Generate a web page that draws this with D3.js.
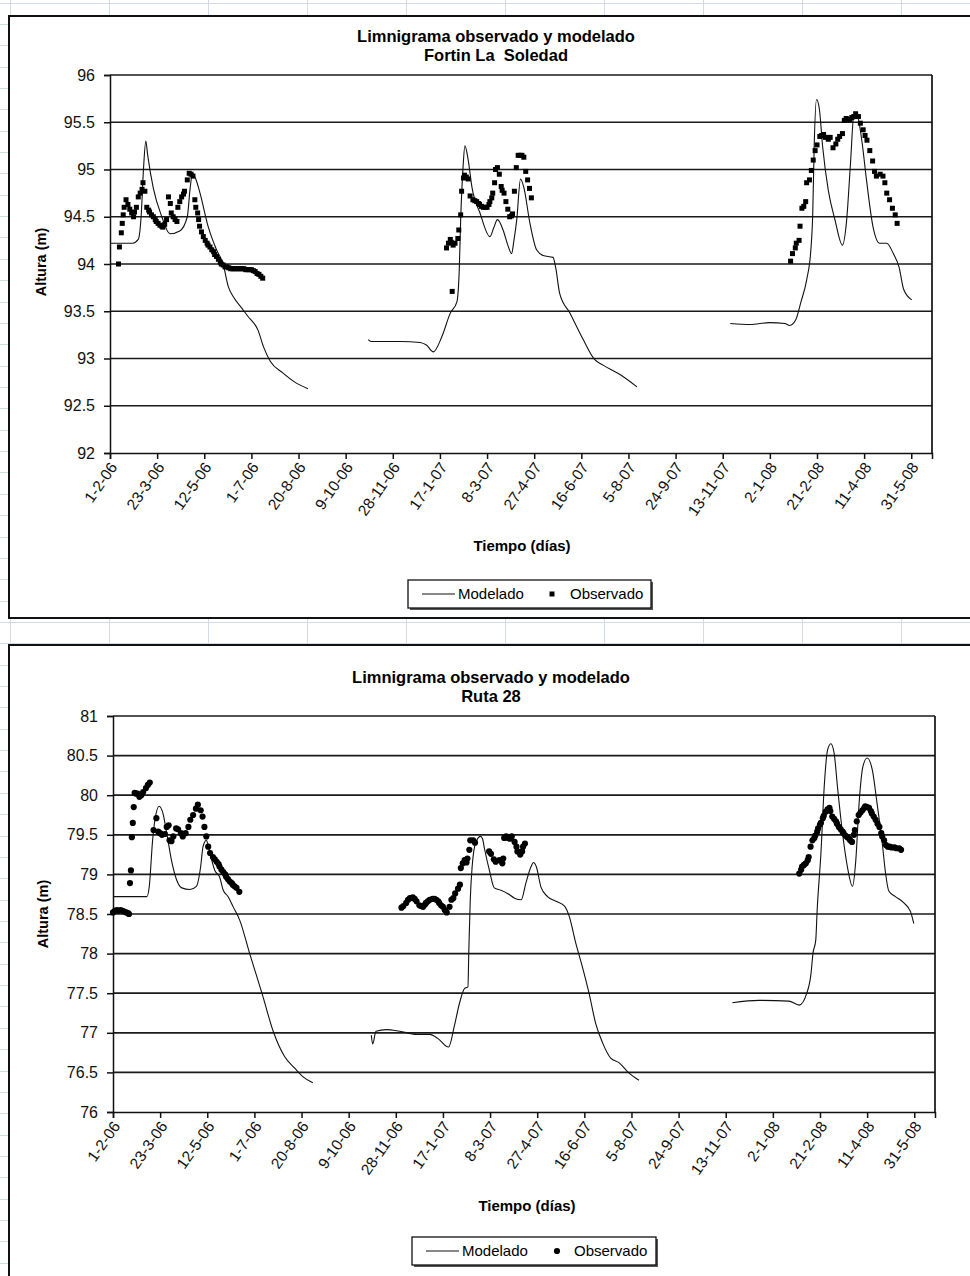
<!DOCTYPE html>
<html>
<head>
<meta charset="utf-8">
<script src="https://cdn.jsdelivr.net/npm/d3@7"></script>
<style>
  body { margin: 0; background: #fff; }
  svg { display: block; font-family: "Liberation Sans", Arial, sans-serif; }
</style>
</head>
<body>
<div id="sheet"></div>
<script>
// day 0 = 1-2-06
const startDate = Date.UTC(2006, 1, 1);

const xTickLabels = ["1-2-06","23-3-06","12-5-06","1-7-06","20-8-06","9-10-06","28-11-06","17-1-07",
  "8-3-07","27-4-07","16-6-07","5-8-07","24-9-07","13-11-07","2-1-08","21-2-08","11-4-08","31-5-08"];

const fortinYLabels = ["92","92.5","93","93.5","94","94.5","95","95.5","96"];
const rutaYLabels = ["76","76.5","77","77.5","78","78.5","79","79.5","80","80.5","81"];

const seriesNames = ["Modelado", "Observado"];

// Fortin La Soledad
const fortinModelado06 = [[0,94.22],[24,94.22],[30,94.26],[33,94.5],[35.5,95.0],[38,95.3],[40,95.15],[46,94.8],
  [55,94.5],[63.5,94.32],[74,94.35],[82,94.5],[85,94.8],[87.5,94.96],[91,94.9],[95.5,94.75],[104,94.4],[113,94.15],
  [120,94.0],[125.5,93.76],[131,93.65],[140,93.53],[146,93.45],[157,93.3],[163,93.12],[170,92.97],[183,92.85],
  [196,92.75],[210,92.68]];
const fortinModelado07 = [[274,93.2],[277,93.18],[308,93.18],[329,93.17],[336,93.14],[343,93.07],[352,93.23],
  [361,93.48],[368,93.6],[370.5,93.94],[372,94.47],[374.5,95.02],[376.5,95.25],[380,95.1],[384,94.81],[392.5,94.54],
  [403,94.29],[407,94.38],[411,94.47],[417,94.36],[422,94.2],[426,94.11],[428.5,94.25],[431.5,94.47],[435.5,94.9],
  [439,94.81],[445.5,94.43],[452.5,94.15],[459.5,94.09],[470,94.07],[473,93.95],[477,93.69],[488,93.48],[502,93.2],
  [514,92.99],[523,92.93],[541,92.83],[559,92.7]];
const fortinModelado08 = [[658,93.37],[679,93.36],[700,93.38],[716,93.37],[721,93.35],[727.5,93.41],[733,93.6],
  [739,93.83],[743.5,94.15],[745.5,94.54],[747,95.24],[749.5,95.74],[752.5,95.64],[756,95.24],[762,94.78],[769,94.47],
  [777,94.2],[781.5,94.47],[785.5,95.06],[789,95.56],[792.5,95.57],[797.5,95.31],[802.5,94.89],[809.5,94.39],
  [816.5,94.22],[824,94.22],[831,94.11],[837,93.97],[842,93.73],[850.5,93.62]];

const fortinObservado06 = [[9,94.0],[10,94.18],[12,94.33],[13,94.43],[14,94.52],[15,94.6],[17,94.68],[19,94.63],
  [21,94.58],[23,94.54],[25,94.5],[26,94.55],[28,94.6],[30,94.71],[32,94.75],[34,94.79],[35,94.86],[37,94.77],
  [39,94.6],[41,94.57],[42,94.55],[44,94.52],[46,94.5],[48,94.47],[49,94.45],[51,94.43],[53,94.41],[55,94.4],
  [56,94.39],[58,94.42],[60,94.47],[62,94.71],[64,94.64],[65,94.54],[67,94.5],[69,94.47],[71,94.45],[72,94.6],
  [74,94.66],[76,94.71],[78,94.74],[79,94.77],[82,94.89],[84,94.96],[86,94.95],[88,94.93],[90,94.68],[91,94.6],
  [93,94.54],[94,94.47],[95,94.4],[97,94.34],[99,94.29],[101,94.25],[103,94.22],[104,94.2],[106,94.18],[108,94.15],
  [110,94.13],[111,94.1],[113,94.08],[115,94.05],[117,94.02],[118,94.0],[120,93.99],[122,93.97],[124,93.97],
  [126,93.96],[128,93.95],[130,93.95],[132,93.95],[134,93.95],[136,93.95],[138,93.95],[140,93.95],[142,93.95],
  [144,93.94],[146,93.94],[148,93.94],[150,93.94],[152,93.93],[154,93.92],[156,93.9],[158,93.89],[160,93.87],[162,93.85]];
const fortinObservado07 = [[357,94.17],[359,94.22],[361,94.26],[362,94.23],[363,93.71],[364,94.2],[366,94.22],
  [369,94.27],[370,94.36],[372,94.52],[373,94.77],[375,94.91],[376,94.94],[378,94.92],[380,94.9],[382,94.72],
  [385,94.68],[387,94.67],[389,94.66],[391,94.64],[392,94.63],[394,94.61],[396,94.6],[398,94.6],[400,94.6],
  [402,94.63],[403,94.66],[405,94.7],[406,94.75],[408,94.86],[409,95.0],[411,95.02],[413,94.95],[415,94.82],
  [416,94.78],[418,94.75],[420,94.66],[422,94.58],[424,94.5],[426,94.51],[427,94.53],[429,94.77],[431,95.02],
  [433,95.15],[435,95.15],[437,95.15],[439,95.13],[441,94.98],[443,94.89],[445,94.8],[447,94.7]];
const fortinObservado08 = [[722,94.03],[724,94.11],[727,94.17],[728,94.22],[731,94.25],[732,94.4],[734,94.59],
  [736,94.61],[738,94.66],[739,94.86],[742,94.89],[744,94.99],[746,95.1],[748,95.2],[750,95.26],[753,95.35],
  [755,95.36],[757,95.37],[759,95.34],[762,95.32],[764,95.34],[767,95.23],[770,95.27],[772,95.32],[774,95.35],
  [777,95.38],[779,95.52],[781,95.54],[783,95.53],[785,95.53],[787,95.55],[789,95.56],[791,95.59],[794,95.56],
  [796,95.49],[799,95.42],[801,95.36],[803,95.31],[806,95.2],[809,95.09],[811,94.98],[813,94.93],[817,94.95],
  [820,94.93],[822,94.86],[824,94.75],[827,94.68],[830,94.59],[833,94.52],[835,94.43]];

// Ruta 28
const rutaModelado06 = [[0,78.72],[36,78.72],[38.5,78.85],[42,79.43],[44.5,79.69],[49,79.86],[53,79.77],[57,79.52],
  [62,79.18],[67.5,78.93],[73,78.83],[81.5,78.81],[88.5,78.85],[93,79.1],[95.5,79.35],[99,79.43],[103,79.26],
  [108,79.05],[113,78.97],[117,78.8],[122,78.72],[127.5,78.59],[134.5,78.42],[145,78.0],[158,77.5],[170.5,77.0],
  [182,76.7],[193,76.55],[201,76.45],[212,76.37]];
const rutaModelado07 = [[274,76.97],[275.5,76.86],[279,77.02],[290,77.04],[304,77.02],[322,76.98],[336,76.98],
  [344.5,76.93],[356,76.82],[362,77.08],[367.5,77.37],[373,77.56],[376.5,77.58],[377.5,78.05],[379,78.68],[381,79.1],
  [385,79.41],[390,79.48],[392,79.45],[394,79.33],[399.5,79.04],[404.5,78.83],[411.5,78.8],[418.5,78.76],[426,78.7],
  [433,78.68],[438,78.89],[443.5,79.1],[446,79.15],[449,79.1],[454,78.84],[461,78.72],[470,78.66],[479,78.6],
  [484,78.47],[491,78.13],[498,77.83],[505,77.5],[512,77.12],[519.5,76.87],[528,76.68],[537,76.62],[547.5,76.49],
  [558,76.4]];
const rutaModelado08 = [[657,77.38],[685,77.41],[717,77.4],[728,77.35],[736,77.5],[740.5,77.75],[742.5,78.0],
  [745.5,78.17],[747,78.55],[751,79.27],[754.5,80.11],[758,80.57],[761.5,80.65],[765,80.53],[768.5,80.11],
  [773.5,79.56],[779,79.1],[784.5,78.85],[788,79.18],[791.5,79.9],[795.5,80.36],[800,80.47],[805.5,80.32],
  [810.5,79.9],[816,79.4],[819.5,79.02],[823,78.79],[830,78.72],[839,78.64],[846,78.53],[849.5,78.38]];

const rutaObservado06 = [[0,78.52],[2,78.54],[4,78.55],[6,78.54],[8,78.55],[10,78.54],[12,78.53],[14,78.52],
  [16,78.51],[17,78.5],[18,78.89],[19,79.05],[20,79.47],[21,79.65],[22,79.85],[23,80.03],[24,80.02],[26,80.02],
  [28,79.98],[30,80.0],[32,80.04],[35,80.09],[37,80.13],[39,80.16],[43,79.56],[46,79.71],[48,79.54],[50,79.52],
  [52,79.5],[55,79.51],[57,79.6],[59,79.62],[60,79.43],[62,79.42],[64,79.48],[67,79.58],[69,79.57],[72,79.52],
  [74,79.48],[77,79.52],[80,79.6],[82,79.69],[85,79.75],[88,79.83],[90,79.88],[93,79.81],[95,79.73],[97,79.6],
  [99,79.48],[101,79.35],[103,79.27],[106,79.22],[108,79.19],[110,79.16],[112,79.13],[113,79.1],[115,79.06],
  [117,79.03],[119,79.0],[120,78.97],[122,78.94],[124,78.91],[126,78.89],[127,78.87],[129,78.85],[131,78.83],[134,78.78]];
const rutaObservado07 = [[306,78.58],[308,78.6],[311,78.64],[313,78.68],[315,78.7],[318,78.71],[320,78.69],
  [322,78.66],[325,78.61],[327,78.6],[329,78.59],[331,78.62],[332,78.64],[334,78.66],[336,78.68],[339,78.69],
  [341,78.69],[343,78.68],[345,78.66],[346,78.64],[348,78.61],[350,78.59],[352,78.55],[354,78.52],[357,78.59],
  [359,78.68],[361,78.7],[363,78.76],[366,78.82],[368,78.87],[369,79.08],[371,79.14],[373,79.18],[375,79.15],
  [376,79.2],[378,79.31],[379,79.43],[382,79.43],[384,79.4],[399,79.29],[401,79.26],[404,79.19],[406,79.16],
  [410,79.18],[413,79.14],[414,79.2],[415,79.46],[417,79.48],[419,79.46],[421,79.45],[423,79.48],[426,79.41],
  [428,79.35],[429,79.29],[432,79.25],[434,79.29],[435,79.35],[437,79.39]];
const rutaObservado08 = [[728,79.01],[730,79.06],[731,79.1],[733,79.12],[735,79.14],[737,79.18],[738,79.22],
  [740,79.35],[742,79.43],[744,79.46],[745,79.49],[747,79.54],[748,79.58],[750,79.63],[751,79.65],[753,79.71],
  [754,79.74],[756,79.79],[758,79.82],[760,79.84],[761,79.8],[763,79.73],[765,79.7],[767,79.67],[768,79.64],
  [770,79.6],[772,79.57],[774,79.54],[775,79.52],[777,79.49],[779,79.47],[781,79.45],[782,79.43],[784,79.41],
  [786,79.5],[787,79.56],[789,79.67],[791,79.75],[793,79.78],[795,79.81],[797,79.84],[798,79.86],[800,79.85],
  [802,79.84],[804,79.8],[805,79.77],[807,79.73],[809,79.69],[811,79.64],[813,79.6],[815,79.52],[816,79.48],
  [818,79.43],[820,79.37],[822,79.35],[824,79.35],[826,79.34],[829,79.34],[831,79.33],[834,79.33],[836,79.31]];

const W = 970, H = 1276;
const toDate = d => new Date(startDate + d * 864e5);
const parseTick = d3.utcParse("%d-%m-%y");

const svg = d3.select('#sheet').append('svg')
    .attr('width', W)
    .attr('height', H);

// spreadsheet cells behind the charts
const cells = svg.append('g').attr('stroke', '#d3dae6').attr('stroke-width', 1);
for (let y = 2.5; y < H; y += 21.36) {
    cells.append('line').attr('x1', 0).attr('x2', W).attr('y1', Math.round(y) + 0.5).attr('y2', Math.round(y) + 0.5);
}
for (let x = 10; x < W; x += 99) {
    cells.append('line').attr('x1', x + 0.5).attr('x2', x + 0.5).attr('y1', 0).attr('y2', H);
}

function drawChart(cfg) {
    const g = svg.append('g');

    // chart area
    g.append('rect')
        .attr('x', cfg.frame.x).attr('y', cfg.frame.y)
        .attr('width', cfg.frame.w).attr('height', cfg.frame.h)
        .attr('fill', '#fff').attr('stroke', '#111').attr('stroke-width', 2);

    g.append('text')
        .attr('x', cfg.titleX).attr('y', cfg.titleY)
        .attr('text-anchor', 'middle')
        .attr('font-weight', 'bold').attr('font-size', 16.5)
        .text('Limnigrama observado y modelado');
    g.append('text')
        .attr('x', cfg.titleX).attr('y', cfg.titleY + 19)
        .attr('text-anchor', 'middle')
        .attr('font-weight', 'bold').attr('font-size', 16.5)
        .style('white-space', 'pre')
        .text(cfg.subtitle);

    const p = cfg.plot;
    const plot = g.append('g').attr('transform', `translate(${p.left},${p.top})`);

    const yTicks = cfg.yLabels.map(Number);
    const xScale = d3.scaleUtc().domain([toDate(0), toDate(872)]).range([0, p.width]);
    const yScale = d3.scaleLinear().domain(d3.extent(yTicks)).range([p.height, 0]);

    plot.append('rect')
        .attr('width', p.width).attr('height', p.height)
        .attr('fill', '#fff');

    // gridlines
    plot.append('g')
        .selectAll('line')
        .data(yTicks.slice(1))
        .enter()
        .append('line')
        .attr('x1', 0).attr('x2', p.width)
        .attr('y1', d => yScale(d)).attr('y2', d => yScale(d))
        .attr('stroke', '#1a1a1a').attr('stroke-width', 1.7);

    plot.append('line')
        .attr('x1', p.width).attr('x2', p.width)
        .attr('y1', 0).attr('y2', p.height)
        .attr('stroke', '#111').attr('stroke-width', 1.7);

    // axes
    const yAxis = d3.axisLeft(yScale)
        .tickValues(yTicks)
        .tickSize(6)
        .tickPadding(9)
        .tickFormat((d, i) => cfg.yLabels[i]);
    const yAxis_group = plot.append('g').call(yAxis);
    yAxis_group.selectAll('text').attr('font-size', 16).attr('fill', '#111').style('font-family', 'inherit');
    yAxis_group.selectAll('line, .domain').attr('stroke', '#111').attr('stroke-width', 1.5);

    const xAxis = d3.axisBottom(xScale)
        .tickValues(xTickLabels.map(parseTick))
        .tickSize(6)
        .tickFormat((d, i) => xTickLabels[i]);
    const xAxis_group = plot.append('g')
        .attr('transform', `translate(0,${p.height})`)
        .call(xAxis);
    xAxis_group.selectAll('line, .domain').attr('stroke', '#111').attr('stroke-width', 1.5);
    xAxis_group.selectAll('text')
        .attr('x', 0).attr('y', 0).attr('dy', '0.35em')
        .attr('text-anchor', 'end')
        .attr('transform', 'translate(3,11) rotate(-55)')
        .attr('font-size', 15.5).attr('fill', '#111')
        .style('font-family', 'inherit');

    // series
    const line = d3.line()
        .x(d => xScale(toDate(d[0])))
        .y(d => yScale(d[1]))
        .curve(d3.curveMonotoneX);

    plot.append('g')
        .selectAll('path')
        .data(cfg.modelado)
        .enter()
        .append('path')
        .attr('d', line)
        .attr('fill', 'none')
        .attr('stroke', '#111')
        .attr('stroke-width', 1.1);

    const obs = plot.append('g').attr('fill', '#000');
    const allObs = cfg.observado.flat();
    if (cfg.marker === 'square') {
        obs.selectAll('rect')
            .data(allObs)
            .enter()
            .append('rect')
            .attr('x', d => xScale(toDate(d[0])) - 2.5)
            .attr('y', d => yScale(d[1]) - 2.5)
            .attr('width', 5).attr('height', 5);
    } else {
        obs.selectAll('circle')
            .data(allObs)
            .enter()
            .append('circle')
            .attr('cx', d => xScale(toDate(d[0])))
            .attr('cy', d => yScale(d[1]))
            .attr('r', 3.1);
    }

    // axis titles
    g.append('text')
        .attr('transform', `translate(${cfg.yTitle[0]},${cfg.yTitle[1]}) rotate(-90)`)
        .attr('text-anchor', 'middle').attr('dy', '0.35em')
        .attr('font-weight', 'bold').attr('font-size', 14.5)
        .text('Altura (m)');
    g.append('text')
        .attr('x', cfg.xTitle[0]).attr('y', cfg.xTitle[1])
        .attr('text-anchor', 'middle').attr('dy', '0.35em')
        .attr('font-weight', 'bold').attr('font-size', 15)
        .text('Tiempo (días)');

    // legend
    const L = cfg.legend;
    const leg = g.append('g').attr('transform', `translate(${L.x},${L.y})`);
    leg.append('rect').attr('x', 2).attr('y', 2).attr('width', L.w).attr('height', L.h).attr('fill', '#555');
    leg.append('rect').attr('width', L.w).attr('height', L.h)
        .attr('fill', '#fff').attr('stroke', '#111').attr('stroke-width', 1.3);
    leg.append('line').attr('x1', 14).attr('x2', 47).attr('y1', L.h / 2).attr('y2', L.h / 2)
        .attr('stroke', '#111').attr('stroke-width', 1.1);
    leg.append('text').attr('x', 50).attr('y', L.h / 2).attr('dy', '0.35em')
        .attr('font-size', 15).text(seriesNames[0]);
    if (cfg.marker === 'square') {
        leg.append('rect').attr('x', 141.5).attr('y', L.h / 2 - 2.5).attr('width', 5).attr('height', 5);
    } else {
        leg.append('circle').attr('cx', 145).attr('cy', L.h / 2).attr('r', 3.1);
    }
    leg.append('text').attr('x', 162).attr('y', L.h / 2).attr('dy', '0.35em')
        .attr('font-size', 15).text(seriesNames[1]);
}

drawChart({
    frame: {x: 9, y: 16, w: 1000, h: 602},
    titleX: 496, titleY: 42,
    subtitle: 'Fortin La  Soledad',
    plot: {left: 110, top: 75, width: 822, height: 378},
    yLabels: fortinYLabels,
    modelado: [fortinModelado06, fortinModelado07, fortinModelado08],
    observado: [fortinObservado06, fortinObservado07, fortinObservado08],
    marker: 'square',
    yTitle: [41, 262],
    xTitle: [522, 546],
    legend: {x: 408, y: 580, w: 243, h: 28}
});

drawChart({
    frame: {x: 9, y: 645, w: 1000, h: 700},
    titleX: 491, titleY: 683,
    subtitle: 'Ruta 28',
    plot: {left: 113, top: 716, width: 822, height: 396},
    yLabels: rutaYLabels,
    modelado: [rutaModelado06, rutaModelado07, rutaModelado08],
    observado: [rutaObservado06, rutaObservado07, rutaObservado08],
    marker: 'circle',
    yTitle: [43, 914],
    xTitle: [527, 1206],
    legend: {x: 412, y: 1237, w: 244, h: 28}
});
</script>
</body>
</html>
